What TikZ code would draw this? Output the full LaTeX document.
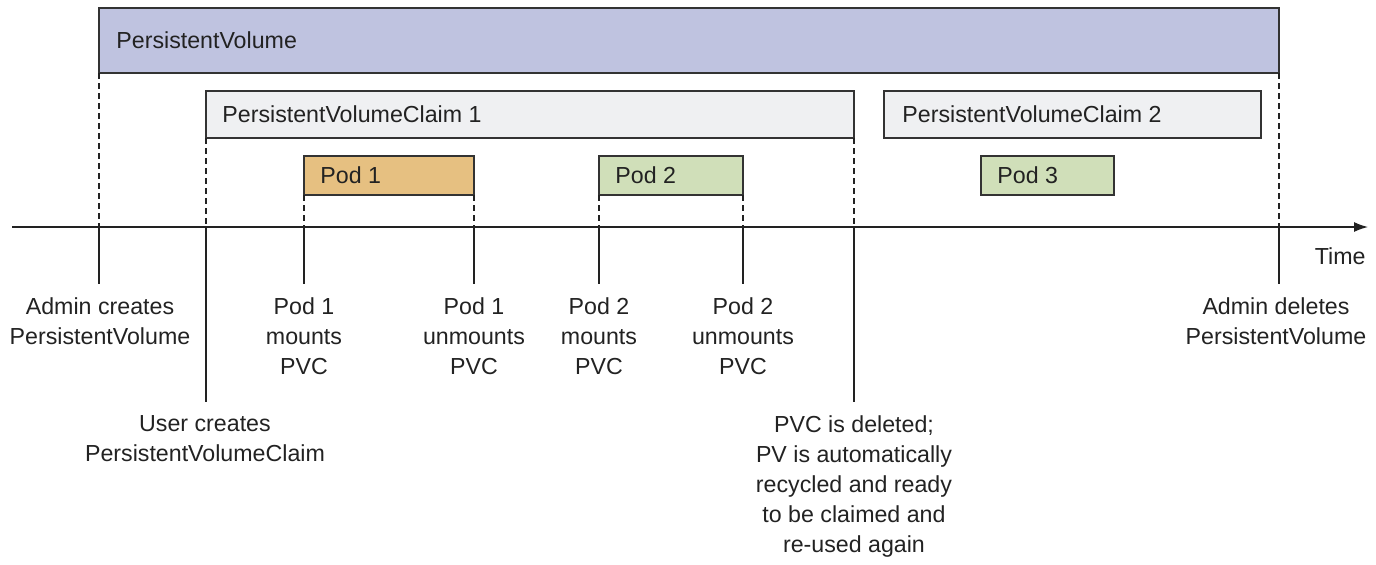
\documentclass[tikz,border=0pt]{standalone}
\usepackage{fontspec}
\setmainfont{Liberation Sans}
\usepackage{tikz}
\usetikzlibrary{arrows.meta,positioning}
\definecolor{pvfill}{HTML}{BFC3E0}
\definecolor{pvcfill}{HTML}{EFF0F2}
\definecolor{podorange}{HTML}{E6C081}
\definecolor{podgreen}{HTML}{D0DFB9}
\definecolor{edge}{HTML}{333333}
\definecolor{ink}{HTML}{222222}
\tikzset{
	span/.style={draw=edge, line width=0.8pt, outer sep=0pt, inner sep=0pt, anchor=north west},
	spantext/.style={text=ink, inner sep=0pt, anchor=west, font=\fontsize{11.6}{15}\selectfont},
	evt/.style={text=ink, inner sep=0pt, anchor=north, align=center, font=\fontsize{11.6}{15}\selectfont},
	tickdash/.style={draw=ink, line width=0.65pt, dash pattern=on 3pt off 2pt},
	tickline/.style={draw=ink, line width=0.65pt, shorten >=6.5pt},
}
\begin{document}
\begin{tikzpicture}[x=0.5pt, y=-0.5pt]
		%%%%% START %%%%%
		\useasboundingbox (0, 0) rectangle (1376, 564);
		
		% spans
		\node[span, fill=pvfill, minimum width=590pt, minimum height=32.5pt] (pv) at (99, 8) {};
		\node[spantext, right=8.5pt of pv.west] (pvt) {PersistentVolume};
		\node[span, fill=pvcfill, minimum width=324pt, minimum height=23.5pt] (pvc1) at (206, 91) {};
		\node[spantext, right=8pt of pvc1.west] (pvc1t) {PersistentVolumeClaim 1};
		\node[span, fill=pvcfill, minimum width=188.5pt, minimum height=23.5pt] (pvc2) at (884, 91) {};
		\node[spantext, right=9pt of pvc2.west] (pvc2t) {PersistentVolumeClaim 2};
		
		\node[span, fill=podorange, minimum width=85pt, minimum height=19.5pt] (pod1) at (304, 156) {};
		\node[spantext, right=8pt of pod1.west] (pod1t) {Pod 1};
		\node[span, fill=podgreen, minimum width=72pt, minimum height=19.5pt] (pod2) at (599, 156) {};
		\node[spantext, right=8pt of pod2.west] (pod2t) {Pod 2};
		\node[span, fill=podgreen, minimum width=66.5pt, minimum height=19.5pt] (pod3) at (981, 156) {};
		\node[spantext, right=8pt of pod3.west] (pod3t) {Pod 3};
		
		% time axis
		\coordinate (t0) at (12, 227);
		\coordinate (t1) at (1368, 227);
		\draw[draw=ink, line width=0.65pt, -{Latex[length=7pt,width=5pt]}] (t0) -- (t1);
		\node[spantext, anchor=east] (time) at (1366, 256) {Time};
		
		% events
		\node[evt] (a1) at (100, 297) {Admin creates\\PersistentVolume};
		\node[evt] (u1) at (205, 415) {User creates\\PersistentVolumeClaim};
		\node[evt] (p1m) at (304, 297) {Pod 1\\mounts\\PVC};
		\node[evt] (p1u) at (474, 297) {Pod 1\\unmounts\\PVC};
		\node[evt] (p2m) at (599, 297) {Pod 2\\mounts\\PVC};
		\node[evt] (p2u) at (743, 297) {Pod 2\\unmounts\\PVC};
		\node[evt] (del) at (854, 415) {PVC is deleted;\\PV is automatically\\recycled and ready\\to be claimed and\\re-used again};
		\node[evt] (a2) at (1276, 297) {Admin deletes\\PersistentVolume};
		
		\foreach \b/\l in {pv.south west/a1, pv.south east/a2, pvc1.south west/u1, pvc1.south east/del,
			pod1.south west/p1m, pod1.south east/p1u, pod2.south west/p2m, pod2.south east/p2u} {
			\draw[tickdash] (\b) -- (\b |- t0);
			\draw[tickline] (\b |- t0) -- (\b |- \l.north);
		}
		
		%%%%% END %%%%%
\end{tikzpicture}
\end{document}
